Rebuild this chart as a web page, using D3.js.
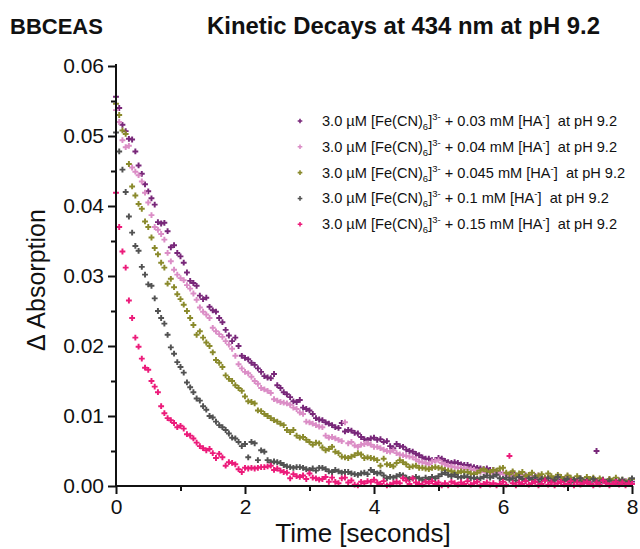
<!DOCTYPE html>
<html>
<head>
<meta charset="utf-8">
<script src="https://cdn.jsdelivr.net/npm/d3@7/dist/d3.min.js"></script>
<style>
  body { margin: 0; background: #fff; }
  svg { display: block; font-family: "Liberation Sans", Arial, sans-serif; }
</style>
</head>
<body>
<div id="chart"></div>
<script>
// sampling step of the kinetic traces, seconds
var dt = 0.05;

// Δ absorption, in units of 1e-4
var trace003 = [
  556, 540, 516, 507, 496, 495, 478, 458, 446, 431, 421, 411, 402, 377, 375, 376, 364, 341, 344, 333,
  328, 319, 305, 293, 290, 286, 272, 267, 269, 256, 251, 249, 240, 234, 223, 215, 207, 212, 200, 186,
  183, 181, 176, 173, 168, 163, 157, 155, 154, 160, 144, 140, 134, 131, 127, 121, 120, 123, 112, 110,
  108, 103, 97, 95, 94, 91, 89, 87, 84, 83, 90, 78, 80, 79, 76, 75, 70, 67, 66, 68,
  69, 66, 67, 63, 64, 57, 54, 60, 57, 56, 52, 50, 49, 46, 44, 41, 39, 39, 37, 37,
  40, 39, 36, 34, 33, 34, 33, 31, 30, 30, 28, 27, 26, 25, 24, 25, 23, 23, 21, 19,
  18, 17, 15, 19, 14, 16, 12, 15, 13, 11, 14, 10, 12, 9, 13, 11, 8, 12, 10, 7,
  11, 9, 6, 10, 8, 5, 9, 7, 10, 50, 6, 8, 5, 9, 6, 4, 8, 5, 7, 4, 6
];
var trace004 = [
  537, 520, 494, 484, 486, 455, 449, 444, 435, 419, 405, 387, 370, 366, 360, 352, 333, 321, 309, 302,
  297, 294, 287, 282, 275, 266, 255, 249, 245, 240, 226, 221, 217, 213, 207, 202, 196, 186, 174, 168,
  163, 161, 156, 150, 146, 140, 138, 136, 133, 124, 122, 120, 119, 118, 116, 112, 110, 105, 103, 92,
  91, 89, 87, 85, 84, 72, 69, 70, 68, 66, 64, 91, 61, 63, 58, 56, 59, 60, 61, 59,
  56, 56, 54, 52, 50, 49, 51, 47, 45, 44, 43, 42, 41, 38, 35, 34, 33, 31, 35, 36,
  37, 33, 31, 29, 28, 27, 26, 26, 25, 24, 24, 23, 21, 20, 22, 19, 20, 18, 19, 17,
  18, 16, 14, 17, 12, 15, 13, 11, 14, 10, 12, 15, 9, 11, 13, 8, 10, 12, 7, 10,
  14, 8, 6, 9, 11, 7, 5, 8, 10, 6, 9, 7, 4, 8, 6, 9, 5, 3, 7, 5, 4
];
var trace0045 = [
  546, 530, 508, 503, 460, 428, 415, 403, 396, 378, 370, 355, 340, 331, 319, 312, 289, 296, 284, 274,
  267, 259, 250, 240, 230, 216, 221, 212, 205, 200, 191, 180, 176, 170, 158, 153, 150, 144, 140, 136,
  128, 121, 120, 118, 108, 107, 103, 100, 97, 94, 92, 89, 87, 80, 77, 80, 72, 69, 70, 66,
  63, 59, 62, 61, 55, 51, 53, 56, 49, 47, 42, 41, 40, 42, 44, 47, 45, 40, 41, 40,
  39, 37, 29, 39, 31, 30, 28, 33, 37, 34, 31, 27, 28, 29, 26, 26, 25, 24, 26, 27,
  26, 25, 23, 22, 21, 19, 19, 21, 20, 20, 18, 17, 19, 22, 24, 21, 20, 23, 22, 25,
  26, 19, 17, 21, 15, 18, 20, 14, 16, 19, 13, 15, 17, 12, 18, 14, 11, 16, 13, 10,
  15, 12, 9, 14, 11, 8, 13, 10, 12, 7, 11, 9, 6, 10, 8, 12, 7, 9, 5, 8, 10
];
var trace01 = [
  505, 478, 452, 420, 385, 362, 343, 336, 313, 302, 288, 286, 268, 250, 240, 232, 216, 198, 189, 177,
  170, 162, 148, 141, 134, 125, 122, 114, 109, 100, 98, 92, 87, 84, 80, 75, 69, 68, 63, 57,
  60, 41, 63, 61, 37, 51, 49, 37, 34, 35, 34, 33, 30, 28, 27, 26, 27, 27, 26, 24,
  23, 25, 22, 26, 26, 24, 21, 20, 23, 21, 19, 20, 20, 18, 17, 16, 18, 19, 17, 23,
  20, 18, 19, 15, 11, 13, 12, 14, 16, 15, 12, 10, 11, 13, 11, 9, 12, 10, 13, 11,
  14, 17, 19, 16, 14, 16, 13, 12, 14, 13, 11, 12, 10, 11, 13, 15, 12, 14, 16, 11,
  10, 12, 9, 11, 8, 13, 10, 7, 11, 9, 12, 6, 10, 8, 11, 7, 9, 13, 6, 8,
  10, 5, 9, 7, 11, 6, 8, 4, 10, 7, 5, 9, 6, 8, 3, 7, 5, 9, 4, 6, 11
];
var trace015 = [
  419, 370, 335, 312, 265, 240, 212, 199, 182, 169, 166, 150, 142, 134, 114, 104, 97, 94, 90, 84,
  86, 82, 74, 72, 68, 62, 57, 54, 51, 53, 47, 40, 46, 41, 29, 34, 33, 31, 24, 20,
  26, 25, 26, 25, 26, 27, 27, 28, 29, 23, 25, 22, 20, 19, 11, 17, 14, 13, 15, 10,
  18, 12, 11, 9, 10, 13, 6, 12, 6, 4, 11, 12, 5, 8, 2, 1, 6, 4, 7, 6,
  9, 5, 3, 7, 1, 2, 4, 6, 4, 11, 8, 3, 11, 5, 3, 2, 6, 4, 7, 3,
  5, 1, 4, 1, 6, 4, 2, 5, 3, 7, 2, 4, 6, 1, 3, 5, 2, 4, 1, 3,
  6, 2, 43, 4, 1, 5, 3, 7, 2, 4, 6, 1, 3, 8, 2, 5, 1, 4, 6, 2,
  3, 7, 1, 5, 2, 4, 6, 3, 1, 5, 2, 8, 4, 1, 3, 6, 2, 5, 1, 4, 3
];

var seriesNames = ["0.03", "0.04", "0.045", "0.1", "0.15"];
var seriesTraces = [trace003, trace004, trace0045, trace01, trace015];
var seriesColors = ["#782779", "#db8dc6", "#8a8a2c", "#525252", "#ec1b7a"];

var xTicks = [0, 2, 4, 6, 8];
var xMinorTicks = [1, 3, 5, 7];
var yTicks = [0, 0.01, 0.02, 0.03, 0.04, 0.05, 0.06];
var yMinorTicks = [0.005, 0.015, 0.025, 0.035, 0.045, 0.055];

(function () {
  var width = 640;
  var height = 549;

  var svg = d3.select("#chart").append("svg")
    .attr("width", width)
    .attr("height", height)
    .attr("viewBox", "0 0 " + width + " " + height);

  var x = d3.scaleLinear().domain([0, 8]).range([116, 632]);
  var y = d3.scaleLinear().domain([0, 0.06]).range([486, 66]);

  // titles
  svg.append("text")
    .attr("x", 10)
    .attr("y", 34)
    .attr("font-size", 22)
    .attr("font-weight", 700)
    .attr("fill", "#111")
    .text("BBCEAS");

  svg.append("text")
    .attr("x", 207)
    .attr("y", 34)
    .attr("font-size", 24)
    .attr("font-weight", 700)
    .attr("fill", "#111")
    .attr("textLength", 393)
    .attr("lengthAdjust", "spacingAndGlyphs")
    .text("Kinetic Decays at 434 nm at pH 9.2");

  // points
  seriesTraces.forEach(function (trace, s) {
    svg.append("g")
      .selectAll("path")
      .data(trace)
      .join("path")
      .attr("d", d3.symbol().type(d3.symbolCross).size(19))
      .attr("fill", seriesColors[s])
      .attr("transform", function (v, i) {
        return "translate(" + x(i * dt) + "," + y(v / 10000) + ")";
      });
  });

  // axes
  function styleAxis(g) {
    g.select(".domain").remove();
    g.selectAll(".tick line").attr("stroke", "#111").attr("stroke-width", 2);
    g.selectAll(".tick text")
      .attr("font-size", 21)
      .attr("fill", "#111")
      .attr("font-family", "'Liberation Sans', Arial, sans-serif");
  }

  svg.append("g")
    .attr("transform", "translate(116,0)")
    .call(d3.axisLeft(y).tickValues(yTicks).tickSize(8).tickPadding(4).tickFormat(d3.format(".2f")))
    .call(styleAxis);

  svg.append("g")
    .attr("transform", "translate(116,0)")
    .call(d3.axisLeft(y).tickValues(yMinorTicks).tickSize(5).tickFormat(""))
    .call(styleAxis);

  svg.append("g")
    .attr("transform", "translate(0,486)")
    .call(d3.axisBottom(x).tickValues(xTicks).tickSize(8).tickPadding(5).tickFormat(d3.format("d")))
    .call(styleAxis);

  svg.append("g")
    .attr("transform", "translate(0,486)")
    .call(d3.axisBottom(x).tickValues(xMinorTicks).tickSize(5).tickFormat(""))
    .call(styleAxis);

  svg.append("line")
    .attr("x1", 116).attr("x2", 116)
    .attr("y1", 64).attr("y2", 487)
    .attr("stroke", "#111").attr("stroke-width", 2);

  svg.append("line")
    .attr("x1", 115).attr("x2", 633)
    .attr("y1", 486).attr("y2", 486)
    .attr("stroke", "#111").attr("stroke-width", 2);

  svg.append("text")
    .attr("x", 363)
    .attr("y", 542)
    .attr("text-anchor", "middle")
    .attr("font-size", 26)
    .attr("fill", "#111")
    .text("Time [seconds]");

  svg.append("text")
    .attr("transform", "translate(45,280) rotate(-90)")
    .attr("text-anchor", "middle")
    .attr("font-size", 25)
    .attr("fill", "#111")
    .text("\u0394 Absorption");

  // legend
  var legend = svg.append("g")
    .selectAll("g")
    .data(seriesNames)
    .join("g")
    .attr("transform", function (d, i) {
      return "translate(300," + (121 + i * 25.8) + ")";
    });

  legend.append("path")
    .attr("d", d3.symbol().type(d3.symbolCross).size(12))
    .attr("fill", function (d, i) { return seriesColors[i]; });

  var label = legend.append("text")
    .attr("x", 22)
    .attr("y", 5)
    .attr("font-size", 14.6)
    .attr("fill", "#111");

  label.append("tspan").text("3.0 \u00b5M [Fe(CN)");
  label.append("tspan").attr("font-size", 9.5).attr("dy", 4).text("6");
  label.append("tspan").text("]").attr("dy", -4);
  label.append("tspan").attr("font-size", 9.5).attr("dy", -6).text("3-");
  label.append("tspan").attr("dy", 6).text(function (d) { return " + " + d + " mM [HA"; });
  label.append("tspan").attr("font-size", 9.5).attr("dy", -6).text("-");
  label.append("tspan").attr("dy", 6).text("]\u00a0 at pH 9.2");
}());
</script>
</body>
</html>
